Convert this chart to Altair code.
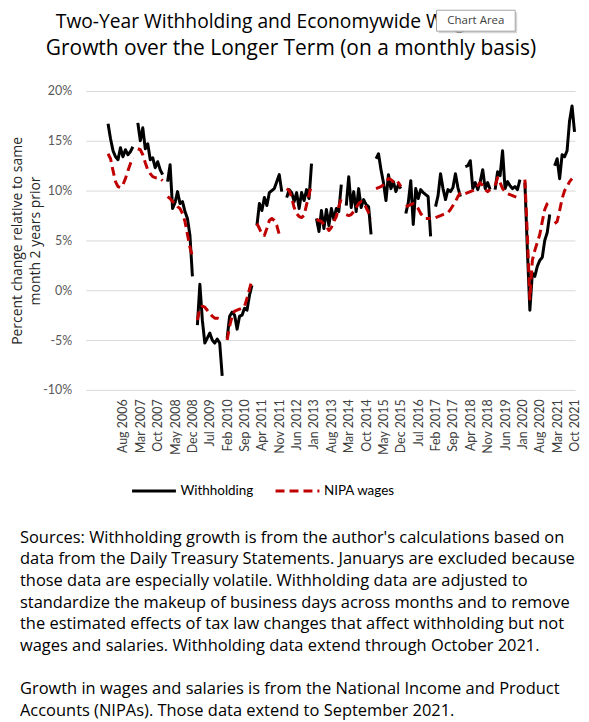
import json
import altair as alt
import pandas as pd

# ---------------- data (percent change vs same month two years earlier) ----------
YEARS = list(range(2006, 2022))
MONTHS = ["Feb", "Mar", "Apr", "May", "Jun", "Jul", "Aug", "Sep", "Oct", "Nov", "Dec"]

# Withholding, Feb..Dec of each year (Januarys excluded); 2021 runs Feb..Oct
WITHHOLDING = [
    16.7, 15.2, 14.0, 13.4, 13.1, 14.3, 13.4, 14.1, 13.6, 13.9, 14.4,   # 2006
    16.8, 15.0, 16.3, 14.2, 14.7, 13.1, 13.3, 12.3, 12.9, 12.1, 11.6,   # 2007
    10.9, 12.6, 8.2, 8.8, 9.9, 8.7, 8.9, 7.9, 7.2, 5.5, 1.4,            # 2008
    -3.5, 0.6, -3.0, -5.3, -4.8, -4.3, -5.0, -5.3, -4.9, -5.3, -8.6,    # 2009
    -4.8, -2.6, -2.2, -2.5, -3.9, -2.6, -2.5, -1.8, -2.0, -0.5, 0.5,    # 2010
    6.5, 8.7, 8.0, 9.3, 8.5, 9.8, 10.0, 10.2, 10.9, 11.6, 9.9,          # 2011
    9.3, 10.1, 9.8, 8.9, 9.8, 8.2, 9.8, 9.0, 10.1, 9.2, 12.7,           # 2012
    7.2, 5.9, 8.0, 6.2, 8.1, 6.5, 8.2, 7.1, 8.2, 7.9, 10.6,             # 2013
    8.5, 11.4, 8.3, 9.9, 7.9, 10.2, 8.3, 9.1, 8.6, 8.4, 5.6,            # 2014
    13.2, 13.7, 12.1, 10.8, 9.0, 11.6, 10.2, 10.9, 9.9, 10.6, 10.2,     # 2015
    7.7, 8.8, 11.0, 6.6, 10.2, 9.2, 10.1, 9.8, 9.6, 9.4, 5.4,           # 2016
    8.4, 9.5, 11.7, 10.2, 9.1, 10.1, 9.9, 10.3, 11.7, 10.3, 9.4,        # 2017
    12.4, 12.5, 13.0, 10.2, 10.8, 10.1, 10.9, 12.1, 10.2, 10.8, 10.1,   # 2018
    10.1, 11.9, 11.5, 14.0, 10.2, 10.9, 10.5, 10.2, 10.4, 10.1, 11.1,   # 2019
    10.8, 4.0, -2.0, 1.7, 1.4, 2.4, 3.0, 3.3, 5.0, 5.8, 7.6,            # 2020
    12.5, 13.2, 11.2, 13.6, 13.4, 14.0, 17.0, 18.5, 15.9,               # 2021
]

# NIPA wages and salaries, Feb..Dec of each year; 2021 runs Feb..Sep
NIPA = [
    13.7, 13.2, 12.0, 10.9, 10.4, 10.3, 10.6, 11.2, 12.0, 12.7, 13.3,   # 2006
    14.2, 14.1, 13.6, 12.8, 12.1, 11.7, 11.4, 11.3, 11.3, 11.2, 11.0,   # 2007
    9.4, 9.2, 8.9, 8.7, 8.4, 8.2, 7.7, 6.9, 5.6, 4.3, 3.4,              # 2008
    -3.0, -1.8, -1.6, -1.7, -2.0, -2.3, -2.6, -2.8, -2.8, -2.9, -3.0,   # 2009
    -5.0, -3.6, -2.6, -2.1, -2.0, -1.9, -1.8, -1.6, -0.8, 0.1, 1.1,     # 2010
    6.7, 6.2, 5.6, 5.5, 6.2, 7.0, 7.2, 7.0, 6.5, 5.6, 5.8,              # 2011
    10.2, 10.0, 9.3, 8.3, 7.7, 7.4, 7.3, 7.5, 8.6, 9.6, 10.6,           # 2012
    7.1, 7.0, 6.9, 6.6, 6.4, 6.0, 6.3, 6.9, 7.4, 8.4, 9.2,              # 2013
    7.6, 7.5, 7.6, 7.9, 8.3, 8.7, 8.9, 8.8, 8.3, 7.8, 7.2,              # 2014
    10.2, 10.3, 10.4, 10.6, 10.9, 11.2, 11.1, 10.9, 11.1, 10.8, 10.4,   # 2015
    8.4, 8.5, 8.6, 8.7, 8.5, 8.2, 7.7, 7.4, 7.2, 7.2, 7.2,              # 2016
    7.3, 7.4, 7.5, 7.6, 7.7, 7.8, 8.1, 8.5, 8.9, 9.4, 9.8,              # 2017
    9.7, 9.8, 9.9, 10.0, 10.2, 10.5, 10.8, 10.5, 10.1, 9.9, 10.1,       # 2018
    10.5, 11.3, 10.8, 10.2, 9.9, 9.7, 9.6, 9.5, 9.4, 9.3, 9.2,          # 2019
    11.1, 5.5, -0.9, 3.0, 4.0, 4.8, 5.6, 6.9, 8.1, 8.7, 8.9,            # 2020
    6.7, 6.9, 8.0, 9.2, 10.0, 10.4, 10.9, 11.2,                         # 2021
]

SERIES = ["Withholding", "NIPA wages"]
COLORS = ["#000000", "#C00000"]

TICK_LABELS = ["Aug 2006", "Mar 2007", "Oct 2007", "May 2008", "Dec 2008", "Jul 2009",
               "Feb 2010", "Sep 2010", "Apr 2011", "Nov 2011", "Jun 2012", "Jan 2013",
               "Aug 2013", "Mar 2014", "Oct 2014", "May 2015", "Dec 2015", "Jul 2016",
               "Feb 2017", "Sep 2017", "Apr 2018", "Nov 2018", "Jun 2019", "Jan 2020",
               "Aug 2020", "Mar 2021", "Oct 2021"]
Y_TICKS = [-10, -5, 0, 5, 10, 15, 20]

TITLE_LINE_1 = "Two-Year Withholding and Economywide Wage"
TITLE_LINE_2 = "Growth over the Longer Term (on a monthly basis)"
Y_TITLE = ["Percent change  relative to same", "month 2 years prior"]
FOOTNOTE_1 = [
    "Sources: Withholding growth is from the author's calculations based on",
    "data from the Daily Treasury Statements. Januarys are excluded because",
    "those data are especially volatile. Withholding data are adjusted to",
    "standardize the makeup of business days across months and to remove",
    "the estimated effects of tax law changes that affect withholding but not",
    "wages and salaries.  Withholding data extend through October 2021.",
]
FOOTNOTE_2 = [
    "Growth in wages and salaries is from the National Income and Product",
    "Accounts (NIPAs). Those data extend to September 2021.",
]
TOOLTIP = "Chart Area"

MON_NUM = {m: i for i, m in enumerate(["Jan", "Feb", "Mar", "Apr", "May", "Jun", "Jul",
                                       "Aug", "Sep", "Oct", "Nov", "Dec"])}


def month_index(year, mon):
    return (year - 2006) * 12 + MON_NUM[mon]


rows = []
for name, values in zip(SERIES, [WITHHOLDING, NIPA]):
    k = 0
    for y in YEARS:
        for m in MONTHS:
            if k >= len(values):
                break
            rows.append({"series": name, "year": y, "t": month_index(y, m),
                         "value": values[k]})
            k += 1
df = pd.DataFrame(rows)

tick_values = [month_index(int(s.split()[1]), s.split()[0]) for s in TICK_LABELS]
label_expr = f"{json.dumps(TICK_LABELS)}[indexof({json.dumps(tick_values)}, datum.value)]"

FONT = "Lato"
TEXT_FONT = "Open Sans"
W, H = 491, 300
LINE_H = 21.7

legend_cfg = dict(title=None, orient="none", direction="horizontal",
                  legendX=45, legendY=378)

lines = alt.Chart(df).mark_line(strokeWidth=3, strokeJoin="round").encode(
    x=alt.X("t:Q", scale=alt.Scale(domain=[-8, 189.2], nice=False, zero=False),
            axis=alt.Axis(values=tick_values, labelExpr=label_expr, labelAngle=270,
                          labelAlign="right", labelBaseline="middle", labelPadding=9,
                          labelFontSize=12.5, labelColor="#404040", labelFont=FONT,
                          ticks=False, domain=False, grid=False, title=None,
                          labelOverlap=False, labelBound=False, labelFlush=False)),
    y=alt.Y("value:Q", scale=alt.Scale(domain=[-10, 20], nice=False),
            axis=alt.Axis(values=Y_TICKS, labelExpr="datum.value + '%'",
                          labelPadding=14, labelFontSize=12.5, labelColor="#595959",
                          labelFont=FONT, ticks=False, domain=False, grid=True,
                          gridColor="#d9d9d9", gridWidth=1,
                          title=Y_TITLE, titleFont=TEXT_FONT, titleFontSize=14,
                          titleFontWeight="normal", titleColor="#262626",
                          titleAngle=270, titleAlign="center",
                          titleBaseline="alphabetic", titleX=-64, titleY=150,
                          titleLineHeight=18)),
    color=alt.Color("series:N", scale=alt.Scale(domain=SERIES, range=COLORS),
                    legend=alt.Legend(**legend_cfg)),
    strokeDash=alt.StrokeDash("series:N",
                              scale=alt.Scale(domain=SERIES, range=[[1, 0], [9, 5]]),
                              legend=alt.Legend(**legend_cfg)),
    detail="year:N",
)

one = pd.DataFrame({"k": [0]})

title1 = alt.Chart(one).mark_text(font=TEXT_FONT, fontSize=19.3, align="left",
                                  baseline="alphabetic", color="#000000").encode(
    x=alt.value(-30), y=alt.value(-63), text=alt.value(TITLE_LINE_1))
title2 = alt.Chart(one).mark_text(font=TEXT_FONT, fontSize=21, align="center",
                                  baseline="alphabetic", color="#000000").encode(
    x=alt.value(206), y=alt.value(-36), text=alt.value(TITLE_LINE_2))

foot1 = alt.Chart(one).mark_text(font=TEXT_FONT, fontSize=16.5, align="left",
                                 baseline="alphabetic", lineHeight=LINE_H,
                                 color="#000000").encode(
    x=alt.value(-66), y=alt.value(453.3), text=alt.value(FOOTNOTE_1))
foot2 = alt.Chart(one).mark_text(font=TEXT_FONT, fontSize=16.5, align="left",
                                 baseline="alphabetic", lineHeight=LINE_H,
                                 color="#000000").encode(
    x=alt.value(-66), y=alt.value(453.3 + 7 * LINE_H), text=alt.value(FOOTNOTE_2))

tip_shadow = alt.Chart(one).mark_rect(fill="#c4c4c4", opacity=0.7).encode(
    x=alt.value(354), x2=alt.value(433), y=alt.value(-79), y2=alt.value(-58))
tip_box = alt.Chart(one).mark_rect(fill="white", stroke="#a6a6a6", strokeWidth=1).encode(
    x=alt.value(352), x2=alt.value(431), y=alt.value(-81), y2=alt.value(-60))
tip_text = alt.Chart(one).mark_text(font=TEXT_FONT, fontSize=11.5, align="center",
                                    baseline="middle", color="#404040").encode(
    x=alt.value(391.5), y=alt.value(-70.5), text=alt.value(TOOLTIP))

chart = alt.layer(lines, title1, title2, foot1, foot2,
                  tip_shadow, tip_box, tip_text).properties(
    width=W, height=H,
    autosize=alt.AutoSizeParams(type="none"),
    padding={"left": 78, "top": 82, "right": 6, "bottom": 332},
).configure_view(strokeWidth=0).configure_legend(
    symbolType="stroke", symbolSize=1936, symbolStrokeWidth=3,
    labelFont=FONT, labelFontSize=13.5, labelColor="#000000",
    labelOffset=3, columnPadding=15, padding=0,
)

chart.save("out.html", embed_options={"renderer": "svg", "actions": False})
